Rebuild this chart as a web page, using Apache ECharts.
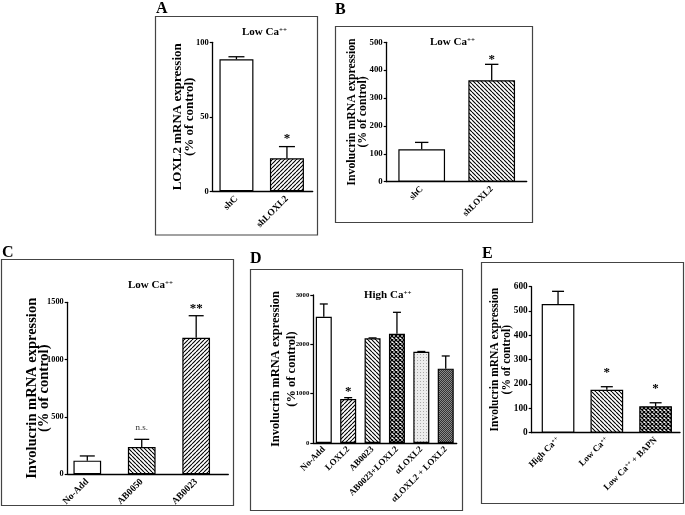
<!DOCTYPE html>
<html><head><meta charset="utf-8">
<script src="https://cdn.jsdelivr.net/npm/echarts@6/dist/echarts.min.js"></script>
<style>html,body{margin:0;padding:0;background:#fff}#c{width:685px;height:515px}</style>
</head><body><div id="c"></div>
<script>
// ---------- DATA ----------
const catsA = ['shC', 'shLOXL2'];
const meanA = [88.6, 22.1];
const errA = [1.7, 7.9];
const sigA = ['', '*'];
const ticksA = [0, 50, 100];
const nameA = 'LOXL2 mRNA expression\n(% of control)';
const headA = 'Low Ca++';

const catsB = ['shC', 'shLOXL2'];
const meanB = [116, 364];
const errB = [25, 57];
const sigB = ['', '*'];
const ticksB = [0, 100, 200, 300, 400, 500];
const nameB = 'Involucrin mRNA expression\n(% of control)';
const headB = 'Low Ca++';

const catsC = ['No-Add', 'AB0050', 'AB0023'];
const meanC = [119, 238, 1191];
const errC = [41, 67, 192];
const sigC = ['', 'n.s.', '**'];
const ticksC = [0, 500, 1000, 1500];
const nameC = 'Involucrin mRNA expression\n(% of control)';
const headC = 'Low Ca++';

const catsD = ['No-Add', 'LOXL2', 'AB0023', 'AB0023+LOXL2', 'αLOXL2', 'αLOXL2 + LOXL2'];
const meanD = [2560, 892, 2122, 2216, 1851, 1507];
const errD = [258, 27, 8, 433, 4, 257];
const sigD = ['', '*', '', '', '', ''];
const ticksD = [0, 1000, 2000, 3000];
const nameD = 'Involucrin mRNA expression\n(% of control)';
const headD = 'High Ca++';

const catsE = ['High Ca++', 'Low Ca++', 'Low Ca++ + BAPN'];
const meanE = [529, 176, 109];
const errE = [52, 13, 14];
const sigE = ['', '*', '*'];
const ticksE = [0, 100, 200, 300, 400, 500, 600];
const nameE = 'Involucrin mRNA expression\n(% of control)';
const headE = '';

const letters = ['A', 'B', 'C', 'D', 'E'];

// ---------- STYLE / LAYOUT ----------
const FONT = "'Liberation Serif','Times New Roman',serif";

function tile(size, draw) {
  const c = document.createElement('canvas');
  c.width = size; c.height = size;
  const g = c.getContext('2d');
  draw(g, size);
  return { image: c, repeat: 'repeat' };
}
function hatch(dir, step, lw) {
  return tile(step, (g, s) => {
    g.fillStyle = '#fff'; g.fillRect(0, 0, s, s);
    g.strokeStyle = '#000'; g.lineWidth = lw; g.beginPath();
    for (let k = -1; k <= 1; k++) {
      if (dir === '/') { g.moveTo(k * s, s); g.lineTo(k * s + s, 0); }
      else { g.moveTo(k * s, 0); g.lineTo(k * s + s, s); }
    }
    g.stroke();
  });
}
function cross(step, lw) {
  return tile(step, (g, s) => {
    g.fillStyle = '#fff'; g.fillRect(0, 0, s, s);
    g.strokeStyle = '#000'; g.lineWidth = lw; g.beginPath();
    for (let k = -1; k <= 1; k++) {
      g.moveTo(k * s, s); g.lineTo(k * s + s, 0);
      g.moveTo(k * s, 0); g.lineTo(k * s + s, s);
    }
    g.stroke();
  });
}
function dots(bg, fg) {
  return tile(3, (g, s) => {
    g.fillStyle = bg; g.fillRect(0, 0, s, s);
    g.fillStyle = fg; g.fillRect(0, 0, 1, 1);
  });
}
function checker(a, b) {
  return tile(2, (g) => {
    g.fillStyle = a; g.fillRect(0, 0, 2, 2);
    g.fillStyle = b; g.fillRect(0, 0, 1, 1); g.fillRect(1, 1, 1, 1);
  });
}
const FILL = {
  white: '#fff',
  fwd: hatch('/', 4, 1.1),
  back: hatch('\\', 4, 1.1),
  cross: cross(4, 1.3),
  light: dots('#ececec', '#a8a8a8'),
  dark: checker('#333', '#8a8a8a')
};

const layouts = [
  { left: 212.7, top: 42.3, width: 100, height: 149, xmin: -0.47, xmax: 1.51, barW: 34, cap: 8, tickFont: 8.5,
    fills: ['white', 'fwd'], box: [155.5, 16.5, 162, 218.5], letter: [156, 1], head: [242, 27],
    nameGap: 17, nameSize: 13, nameLH: 12, xFont: 9.5, xMargin: 6, sigGap: 8 },
  { left: 386.7, top: 42.3, width: 140, height: 139.4, xmin: -0.5, xmax: 1.5, barW: 46.7, cap: 6.7, tickFont: 8.8,
    fills: ['white', 'back'], box: [335.5, 26.5, 197, 196], letter: [335, 2], head: [430, 37],
    nameGap: 18, nameSize: 11.8, nameLH: 11.5, xFont: 9, xMargin: 6, sigGap: 5 },
  { left: 67.7, top: 302.3, width: 160.6, height: 172, xmin: -0.36, xmax: 2.59, barW: 27.7, cap: 7.5, tickFont: 8.3,
    fills: ['white', 'back', 'fwd'], box: [1.5, 259.5, 232, 246], letter: [2, 245], head: [128, 280],
    nameGap: 17, nameSize: 14.5, nameLH: 12, xFont: 9.5, xMargin: 6, sigGap: 7 },
  { left: 313.3, top: 295, width: 143.4, height: 148, xmin: -0.43, xmax: 5.45, barW: 16, cap: 4, tickFont: 6.8,
    fills: ['white', 'fwd', 'back', 'cross', 'light', 'dark'], box: [250.5, 269.5, 212, 241], letter: [250, 251], head: [364, 290],
    nameGap: 14, nameSize: 12.5, nameLH: 16, xFont: 9, xMargin: 5, sigGap: 6 },
  { left: 531.7, top: 286.7, width: 148.3, height: 146, xmin: -0.54, xmax: 2.50, barW: 32.7, cap: 6, tickFont: 9.3,
    fills: ['white', 'back', 'cross'], box: [481.5, 262.5, 202, 241], letter: [482, 246], head: [0, 0],
    nameGap: 18.5, nameSize: 11.5, nameLH: 12, xFont: 9, xMargin: 6, sigGap: 14 }
];

const panels = [
  { cats: catsA, mean: meanA, err: errA, sig: sigA, ticks: ticksA, name: nameA, head: headA },
  { cats: catsB, mean: meanB, err: errB, sig: sigB, ticks: ticksB, name: nameB, head: headB },
  { cats: catsC, mean: meanC, err: errC, sig: sigC, ticks: ticksC, name: nameC, head: headC },
  { cats: catsD, mean: meanD, err: errD, sig: sigD, ticks: ticksD, name: nameD, head: headD },
  { cats: catsE, mean: meanE, err: errE, sig: sigE, ticks: ticksE, name: nameE, head: headE }
];

const sup = s => s.replace(/\+\+/g, '{s|++}');

const grid = [], xAxis = [], yAxis = [], series = [], title = [], graphic = [];
panels.forEach((p, i) => {
  const L = layouts[i];
  grid.push({ left: L.left, top: L.top, width: L.width, height: L.height, outerBoundsMode: 'none' });
  xAxis.push({
    type: 'value', gridIndex: i, min: L.xmin, max: L.xmax, interval: 0.01,
    axisLine: { show: true, lineStyle: { color: '#000', width: 1.3 } },
    axisTick: { show: false }, splitLine: { show: false },
    axisLabel: {
      rotate: 45, margin: L.xMargin, fontFamily: FONT, fontWeight: 'bold', fontSize: L.xFont, color: '#000',
      formatter: v => { const r = Math.round(v); return (Math.abs(v - r) < 1e-6 && p.cats[r] !== undefined) ? sup(p.cats[r]) : ''; },
      rich: { s: { fontSize: L.xFont * 0.65, verticalAlign: 'top', fontFamily: FONT, fontWeight: 'bold', color: '#000' } }
    }
  });
  yAxis.push({
    type: 'value', gridIndex: i, min: p.ticks[0], max: p.ticks[p.ticks.length - 1], interval: p.ticks[1] - p.ticks[0],
    axisLine: { show: true, onZero: false, lineStyle: { color: '#000', width: 1.3 } },
    axisTick: { show: true, length: 3, lineStyle: { color: '#000', width: 1.2 } },
    splitLine: { show: false },
    axisLabel: { margin: 4, fontFamily: FONT, fontWeight: 'bold', fontSize: L.tickFont, color: '#000', formatter: v => String(v) },
    name: p.name, nameLocation: 'middle', nameGap: L.nameGap, nameMoveOverlap: false,
    nameTextStyle: { fontFamily: FONT, fontWeight: 'bold', fontSize: L.nameSize, lineHeight: L.nameLH, color: '#000' }
  });
  series.push({
    type: 'bar', xAxisIndex: i, yAxisIndex: i, barWidth: L.barW, silent: true,
    itemStyle: { borderColor: '#000', borderWidth: 1.2 },
    data: p.mean.map((m, j) => ({ value: [j, m], itemStyle: { color: FILL[L.fills[j]] } }))
  });
  series.push({
    type: 'custom', xAxisIndex: i, yAxisIndex: i, silent: true, z: 5,
    data: p.mean.map((m, j) => [j, m, p.err[j]]),
    renderItem: (params, api) => {
      const j = params.dataIndex;
      const x = api.value(0), v = api.value(1), e = api.value(2);
      const b = api.coord([x, v]), t = api.coord([x, v + e]);
      const ch = [
        { type: 'line', shape: { x1: b[0], y1: b[1], x2: t[0], y2: t[1] }, style: { stroke: '#000', lineWidth: 1.3 } },
        { type: 'line', shape: { x1: t[0] - L.cap, y1: t[1], x2: t[0] + L.cap, y2: t[1] }, style: { stroke: '#000', lineWidth: 1.3 } }
      ];
      const s = p.sig[j];
      if (s) {
        const ns = s === 'n.s.';
        ch.push({ type: 'text', x: t[0], y: t[1] - L.sigGap, style: {
          text: s, fill: ns ? '#333' : '#000', fontFamily: FONT, fontWeight: ns ? 'normal' : 'bold',
          fontSize: ns ? 9 : 13, align: 'center', verticalAlign: ns ? 'bottom' : 'middle' } });
      }
      return { type: 'group', children: ch };
    }
  });
  title.push({ text: letters[i], left: L.letter[0], top: L.letter[1], padding: 0,
    textStyle: { fontFamily: FONT, fontWeight: 'bold', fontSize: 16, color: '#000' } });
  if (p.head) {
    title.push({ text: sup(p.head), left: L.head[0], top: L.head[1], padding: 0,
      textStyle: { fontFamily: FONT, fontWeight: 'bold', fontSize: 11, color: '#000',
        rich: { s: { fontSize: 7, verticalAlign: 'top', fontFamily: FONT, fontWeight: 'bold', color: '#000' } } } });
  }
  graphic.push({ type: 'rect', shape: { x: L.box[0], y: L.box[1], width: L.box[2], height: L.box[3] },
    style: { fill: null, stroke: '#444', lineWidth: 1.2 }, silent: true });
});

const chart = echarts.init(document.getElementById('c'), null, { renderer: 'canvas' });
chart.setOption({ animation: false, backgroundColor: '#fff', grid, xAxis, yAxis, series, title, graphic });
</script></body></html>
